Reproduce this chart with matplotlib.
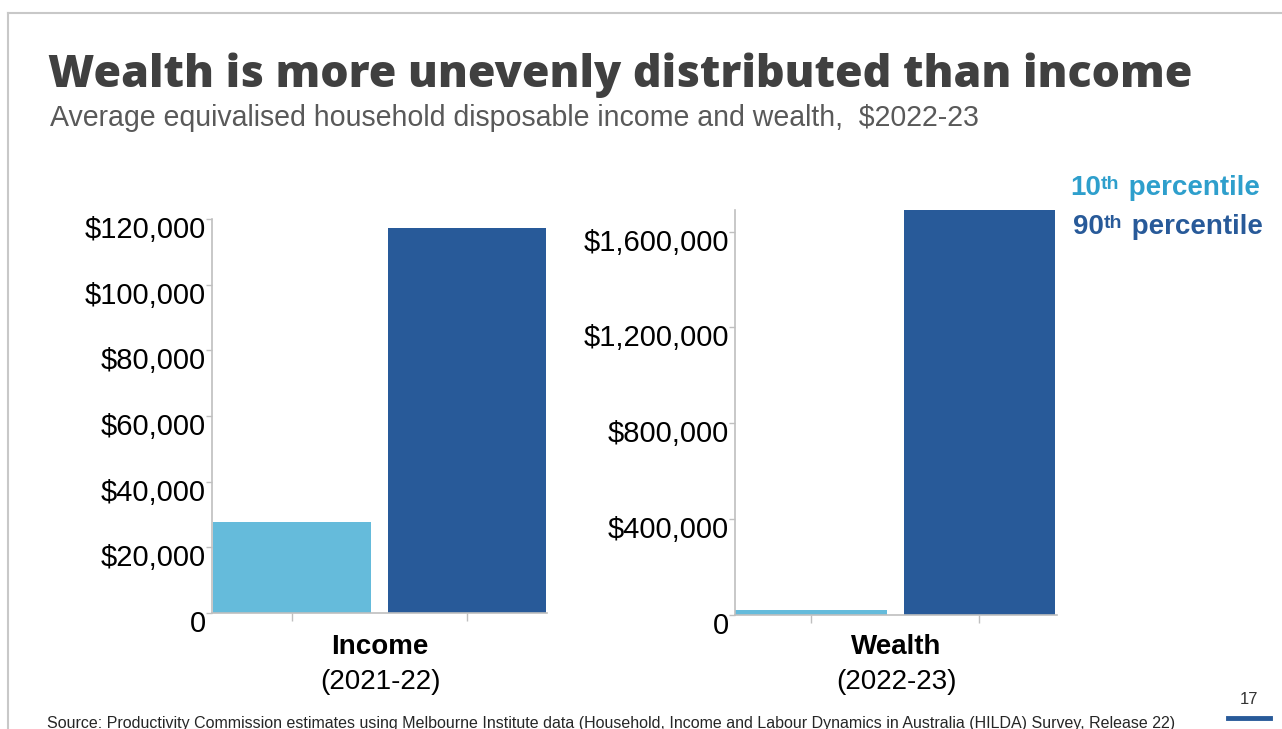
import matplotlib
matplotlib.use("Agg")
import matplotlib.pyplot as plt
from matplotlib import font_manager as fm
from matplotlib.transforms import ScaledTranslation
from matplotlib.ticker import FuncFormatter
from matplotlib.lines import Line2D
from matplotlib.text import Annotation

# ---- data -------------------------------------------------------------
percentiles = ["10th", "90th"]
income_values = [27800, 117400]        # $ per year, 2021-22
wealth_values = [21000, 1690000]       # $, 2022-23
income_ticks = [0, 20000, 40000, 60000, 80000, 100000, 120000]
wealth_ticks = [0, 400000, 800000, 1200000, 1600000]
panel_titles = ["Income", "Wealth"]
panel_periods = ["(2021-22)", "(2022-23)"]

# ---- style ------------------------------------------------------------
LIGHT = "#65BBDB"
DARK = "#285A99"
LEGEND_LIGHT = "#2E9FCC"
SPINE = "#BFBFBF"
BODY_FONT = ["Liberation Sans", "DejaVu Sans"]

W, H = 1282, 729
fig = plt.figure(figsize=(W / 100, H / 100), dpi=100)
plt.rcParams["font.family"] = BODY_FONT
renderer = fig.canvas.get_renderer()


def fx(px):
    return px / W


def fy(py):
    return 1 - py / H


HEADLINE = "Wealth is more unevenly distributed than income"
LATIN_HEAVY = ["Roboto", "Lato", "Inter", "Open Sans", "Noto Sans"]


def widest_heavy_family():
    """Among installed black/extra-bold Latin faces, pick the widest one."""
    heavy = set()
    for f in fm.fontManager.ttflist:
        w = f.weight
        if isinstance(w, str):
            w = fm.weight_dict.get(w, 400)
        if w >= 800:
            heavy.add(f.name)
    best, best_w = "DejaVu Sans", 0
    for fam in LATIN_HEAVY:
        if fam not in heavy:
            continue
        t = fig.text(0, 0, HEADLINE, family=fam, fontweight=900, fontsize=30)
        w = t.get_window_extent(renderer).width
        t.remove()
        if w > best_w:
            best, best_w = fam, w
    return best


def money(v, _pos=None):
    return "0" if v == 0 else f"${v:,.0f}"


def draw_panel(rect, values, ticks, ylim_top, xlim):
    ax = fig.add_axes(rect)
    ax.bar(range(len(values)), values, width=0.9, color=[LIGHT, DARK])
    ax.set_xlim(*xlim)
    ax.set_ylim(0, ylim_top)
    ax.set_yticks(ticks)
    ax.yaxis.set_major_formatter(FuncFormatter(money))
    ax.set_xticks(range(len(values)))
    ax.set_xticklabels([])
    for side in ("top", "right"):
        ax.spines[side].set_visible(False)
    for side in ("left", "bottom"):
        ax.spines[side].set_color(SPINE)
        ax.spines[side].set_linewidth(1.2)
    ax.tick_params(axis="y", length=4, width=1, color=SPINE,
                   labelsize=21, pad=0.5, labelcolor="#000000")
    ax.tick_params(axis="x", length=6, width=1, color=SPINE)
    shift = ScaledTranslation(0, -8 / 100, fig.dpi_scale_trans)
    for lab in ax.get_yticklabels():
        lab.set_transform(lab.get_transform() + shift)
    return ax


ax_inc = draw_panel([fx(212), fy(613), 335 / W, 394 / H],
                    income_values, income_ticks, 120000, (-0.455, 1.455))
ax_wlt = draw_panel([fx(735), fy(615), 322 / W, 405 / H],
                    wealth_values, wealth_ticks, 1690000, (-0.45, 1.46))

# panel captions
for cx, name, period in zip([380, 896], panel_titles, panel_periods):
    fig.text(fx(cx), fy(647), name, ha="center", va="center",
             fontsize=20, fontweight="bold", color="#000000")
    fig.text(fx(cx), fy(682), period, ha="center", va="center",
             fontsize=20, color="#000000")

# headline and subtitle
title = fig.text(fx(48), fy(87), HEADLINE,
                 ha="left", va="baseline", fontsize=30, fontweight=900,
                 family=[widest_heavy_family(), "DejaVu Sans"], color="#404040")
subtitle = fig.text(fx(50), fy(126),
                    "Average equivalised household disposable income and wealth,  $2022-23",
                    ha="left", va="baseline", fontsize=17, color="#595959")
source = fig.text(fx(47), fy(716),
                  "Source: Productivity Commission estimates using Melbourne Institute data "
                  "(Household, Income and Labour Dynamics in Australia (HILDA) Survey, Release 22)",
                  ha="left", va="top", fontsize=11, color="#262626")

for txt, target in [(title, 1145), (subtitle, 933), (source, 1130)]:
    w = txt.get_window_extent(renderer).width
    txt.set_fontsize(txt.get_fontsize() * target / w)

# legend as coloured text with superscript ordinals
for (lx, by), pct, col in zip([(1070, 195), (1073, 234)], percentiles, [LEGEND_LIGHT, DARK]):
    num = fig.text(fx(lx), fy(by), pct[:-2], ha="left", va="baseline",
                   fontsize=20, fontweight="bold", color=col)
    fig.add_artist(Annotation(
        pct[-2:], xy=(1, 0.95), xycoords=num, ha="left", va="top",
        fontsize=14, fontweight="bold", color=col))
    fig.add_artist(Annotation(
        " percentile", xy=(1.0, 0), xycoords=num, xytext=(20, 0),
        textcoords="offset pixels", ha="left", va="bottom",
        fontsize=20, fontweight="bold", color=col))

# slide furniture: page number, accent bar, frame
fig.text(fx(1249), fy(700), "17", ha="center", va="center", fontsize=12, color="#333333")
fig.add_artist(Line2D([fx(1228), fx(1270)], [fy(718), fy(718)],
                      color=DARK, lw=3.5, transform=fig.transFigure))
fig.add_artist(Line2D([fx(8), fx(1282)], [fy(13), fy(13)],
                      color="#C8C8C8", lw=1.5, transform=fig.transFigure))
fig.add_artist(Line2D([fx(8), fx(8)], [fy(13), fy(729)],
                      color="#C8C8C8", lw=1.5, transform=fig.transFigure))

fig.savefig("out.png", dpi=100, facecolor="white")
